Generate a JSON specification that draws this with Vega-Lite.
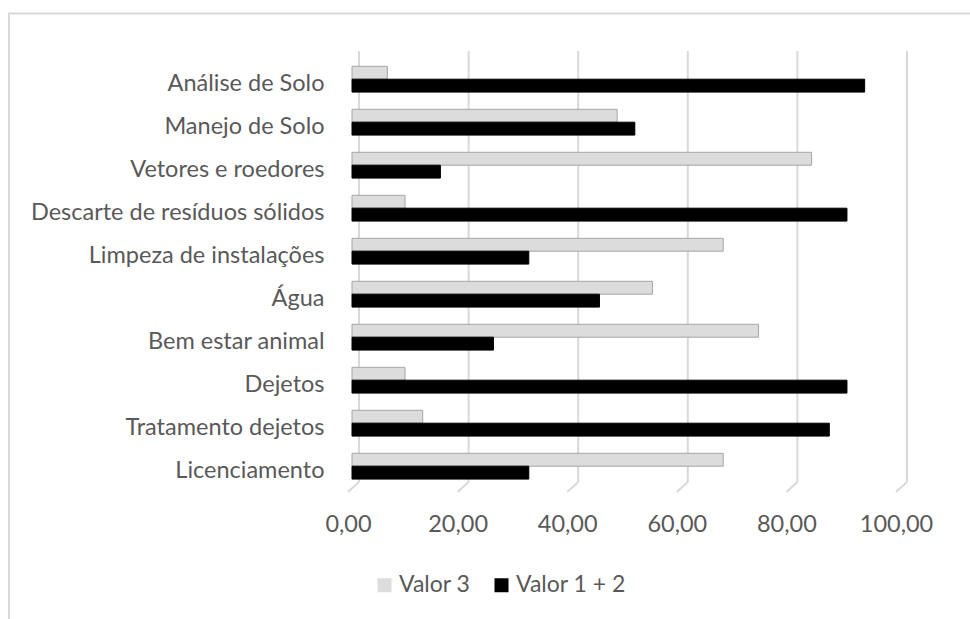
{
  "$schema": "https://vega.github.io/schema/vega-lite/v6.json",
  "width": 961,
  "height": 605.5,
  "autosize": {"type": "none"},
  "padding": {"left": 9, "top": 13.5, "right": 0, "bottom": 0},
  "background": "white",
  "config": {
    "view": {"stroke": "#d9d9d9", "strokeWidth": 2, "strokeDash": [961, 1566.5, 605.5]},
    "axis": {"labelFont": "Lato", "labelFontSize": 23.5, "labelColor": "#595959", "domain": false, "ticks": false, "tickSize": 0, "grid": false, "title": null, "labelFlush": false, "labelOverlap": false}
  },
  "layer": [
    {
      "data": {"values": [{"tick": 0}, {"tick": 20}, {"tick": 40}, {"tick": 60}, {"tick": 80}, {"tick": 100}]},
      "mark": {"type": "rule", "color": "#d9d9d9", "strokeWidth": 2, "xOffset": 7},
      "encoding": {
        "x": {
          "field": "tick", "type": "quantitative",
          "scale": {"domain": [0, 100], "range": [343, 891]},
          "axis": {"values": [0, 20, 40, 60, 80, 100], "labelExpr": "replace(format(datum.value, '.2f'), '.', ',')", "offset": -127, "labelPadding": 20, "labelOffset": -4, "labelFlush": false}
        },
        "y": {"datum": 0, "type": "quantitative", "scale": {"domain": [0, 1], "range": [468.5, 37.5]}, "axis": null},
        "y2": {"datum": 1}
      }
    },
    {
      "data": {"values": [{"tick": 0}, {"tick": 20}, {"tick": 40}, {"tick": 60}, {"tick": 80}, {"tick": 100}]},
      "mark": {"type": "rule", "color": "#d9d9d9", "strokeWidth": 2, "xOffset": 7, "x2Offset": -4, "y2Offset": 10},
      "encoding": {
        "x": {
          "field": "tick", "type": "quantitative",
          "scale": {"domain": [0, 100], "range": [343, 891]},
          "axis": {"values": [0, 20, 40, 60, 80, 100], "labelExpr": "replace(format(datum.value, '.2f'), '.', ',')", "offset": -127, "labelPadding": 20, "labelOffset": -4, "labelFlush": false}
        },
        "x2": {"field": "tick"},
        "y": {"datum": 0, "type": "quantitative", "scale": {"domain": [0, 1], "range": [468.5, 37.5]}, "axis": null},
        "y2": {"datum": 0}
      }
    },
    {
      "data": {"values": [
        {"categoria": "Análise de Solo", "serie": "Valor 3", "valor": 6.45},
        {"categoria": "Análise de Solo", "serie": "Valor 1 + 2", "valor": 93.55},
        {"categoria": "Manejo de Solo", "serie": "Valor 3", "valor": 48.39},
        {"categoria": "Manejo de Solo", "serie": "Valor 1 + 2", "valor": 51.61},
        {"categoria": "Vetores e roedores", "serie": "Valor 3", "valor": 83.87},
        {"categoria": "Vetores e roedores", "serie": "Valor 1 + 2", "valor": 16.13},
        {"categoria": "Descarte de resíduos sólidos", "serie": "Valor 3", "valor": 9.68},
        {"categoria": "Descarte de resíduos sólidos", "serie": "Valor 1 + 2", "valor": 90.32},
        {"categoria": "Limpeza de instalações", "serie": "Valor 3", "valor": 67.74},
        {"categoria": "Limpeza de instalações", "serie": "Valor 1 + 2", "valor": 32.26},
        {"categoria": "Água", "serie": "Valor 3", "valor": 54.84},
        {"categoria": "Água", "serie": "Valor 1 + 2", "valor": 45.16},
        {"categoria": "Bem estar animal", "serie": "Valor 3", "valor": 74.19},
        {"categoria": "Bem estar animal", "serie": "Valor 1 + 2", "valor": 25.81},
        {"categoria": "Dejetos", "serie": "Valor 3", "valor": 9.68},
        {"categoria": "Dejetos", "serie": "Valor 1 + 2", "valor": 90.32},
        {"categoria": "Tratamento dejetos", "serie": "Valor 3", "valor": 12.9},
        {"categoria": "Tratamento dejetos", "serie": "Valor 1 + 2", "valor": 87.1},
        {"categoria": "Licenciamento", "serie": "Valor 3", "valor": 67.74},
        {"categoria": "Licenciamento", "serie": "Valor 1 + 2", "valor": 32.26}
      ]},
      "mark": {"type": "bar", "strokeWidth": 1},
      "encoding": {
        "y": {
          "field": "categoria", "type": "nominal",
          "sort": ["Análise de Solo", "Manejo de Solo", "Vetores e roedores", "Descarte de resíduos sólidos", "Limpeza de instalações", "Água", "Bem estar animal", "Dejetos", "Tratamento dejetos", "Licenciamento"],
          "scale": {"range": [44.2, 474.2], "paddingInner": 0.4, "paddingOuter": 0.2},
          "axis": {"offset": -315, "labelPadding": 0, "labelOffset": 5, "labelLimit": 400}
        },
        "yOffset": {"field": "serie", "type": "nominal", "sort": ["Valor 3", "Valor 1 + 2"], "scale": {"paddingInner": 0, "paddingOuter": 0}},
        "x": {
          "field": "valor", "type": "quantitative",
          "scale": {"domain": [0, 100], "range": [343, 891]},
          "axis": {"values": [0, 20, 40, 60, 80, 100], "labelExpr": "replace(format(datum.value, '.2f'), '.', ',')", "offset": -127, "labelPadding": 20, "labelOffset": -4, "labelFlush": false}
        },
        "color": {
          "field": "serie", "type": "nominal",
          "scale": {"domain": ["Valor 3", "Valor 1 + 2"], "range": ["#dcdcdc", "#000000"]},
          "legend": {"title": null, "orient": "none", "legendX": 364, "legendY": 560, "direction": "horizontal", "symbolType": "square", "symbolSize": 196, "symbolStrokeWidth": 0, "labelFont": "Lato", "labelFontSize": 23, "labelColor": "#595959", "labelOffset": 3, "columnPadding": 19, "padding": 0}
        },
        "stroke": {
          "field": "serie", "type": "nominal",
          "scale": {"domain": ["Valor 3", "Valor 1 + 2"], "range": ["#a6a6a6", "#000000"]},
          "legend": null
        }
      }
    }
  ],
  "resolve": {"scale": {"y": "independent"}}
}
